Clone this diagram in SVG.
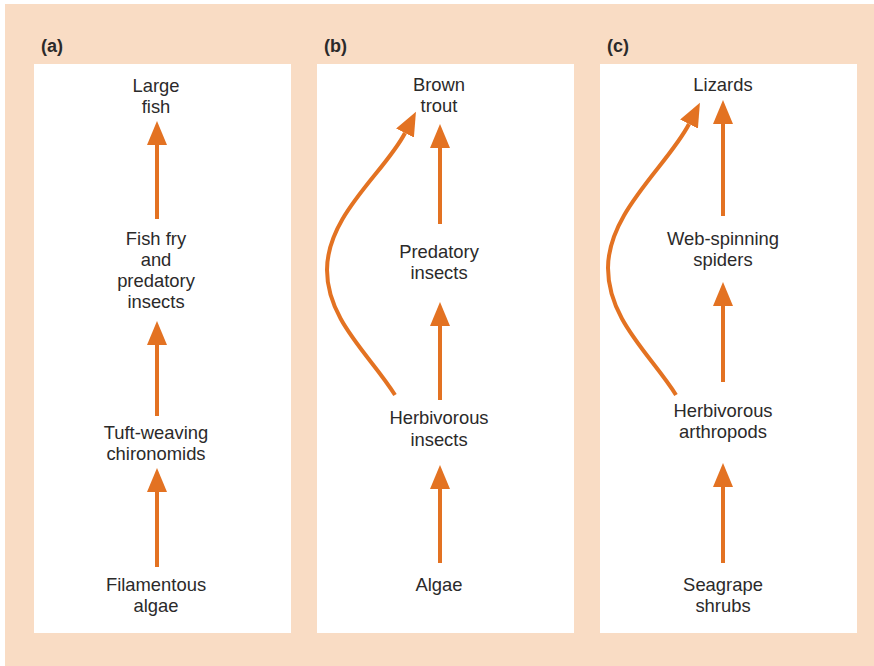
<svg xmlns="http://www.w3.org/2000/svg" width="874" height="666" viewBox="0 0 874 666">
<defs>
<style>
.bg{fill:#F9DCC4}
.panel{fill:#FFFFFF}
.lbl{font-family:"Liberation Sans",Arial,sans-serif;font-size:18.4px;fill:#2B2A2A;text-anchor:middle}
.tag{font-family:"Liberation Sans",Arial,sans-serif;font-size:18px;font-weight:bold;fill:#2B2A2A}
.arr{fill:none;stroke:#E37222;stroke-width:4;marker-end:url(#head)}
</style>
<marker id="head" markerUnits="userSpaceOnUse" markerWidth="24" markerHeight="20" refX="0" refY="10" orient="auto" viewBox="0 0 24 20">
<path d="M0,0 L24,10 L0,20 Z" fill="#E37222"/>
</marker>
</defs>
<rect class="bg" x="5" y="4" width="869" height="662"/>
<g id="panel-a">
<rect class="panel" x="34" y="64" width="257" height="569"/>
<text class="tag" x="41" y="52">(a)</text>
</g>
<g id="panel-b">
<rect class="panel" x="317" y="64" width="257" height="569"/>
<text class="tag" x="324" y="52">(b)</text>
</g>
<g id="panel-c">
<rect class="panel" x="600" y="64" width="257" height="569"/>
<text class="tag" x="607" y="52">(c)</text>
</g>
<g id="a-large-fish"><text class="lbl" x="156" y="92">Large</text><text class="lbl" x="156" y="113">fish</text></g>
<g id="a-fish-fry"><text class="lbl" x="156" y="245">Fish fry</text><text class="lbl" x="156" y="266">and</text><text class="lbl" x="156" y="287">predatory</text><text class="lbl" x="156" y="308">insects</text></g>
<g id="a-chironomids"><text class="lbl" x="156" y="439">Tuft-weaving</text><text class="lbl" x="156" y="460">chironomids</text></g>
<g id="a-algae"><text class="lbl" x="156" y="591">Filamentous</text><text class="lbl" x="156" y="612">algae</text></g>
<g id="b-trout"><text class="lbl" x="439" y="91">Brown</text><text class="lbl" x="439" y="112">trout</text></g>
<g id="b-predatory"><text class="lbl" x="439" y="258">Predatory</text><text class="lbl" x="439" y="279">insects</text></g>
<g id="b-herbivorous"><text class="lbl" x="439" y="424">Herbivorous</text><text class="lbl" x="439" y="446">insects</text></g>
<g id="b-algae"><text class="lbl" x="439" y="591">Algae</text></g>
<g id="c-lizards"><text class="lbl" x="723" y="91">Lizards</text></g>
<g id="c-spiders"><text class="lbl" x="723" y="245">Web-spinning</text><text class="lbl" x="723" y="266">spiders</text></g>
<g id="c-arthropods"><text class="lbl" x="723" y="417">Herbivorous</text><text class="lbl" x="723" y="438">arthropods</text></g>
<g id="c-seagrape"><text class="lbl" x="723" y="591">Seagrape</text><text class="lbl" x="723" y="612">shrubs</text></g>
<g id="connectors">
<path class="arr" d="M157,219 L157,145"/>
<path class="arr" d="M157,416 L157,345"/>
<path class="arr" d="M157,567 L157,492"/>
<path class="arr" d="M440,224 L440,148"/>
<path class="arr" d="M440,400 L440,326"/>
<path class="arr" d="M440,563 L440,489"/>
<path class="arr" d="M395,395 C370,355 327,320 327,270 C327,215 385,172 405,133"/>
<path class="arr" d="M723,216 L723,124"/>
<path class="arr" d="M723,382 L723,306"/>
<path class="arr" d="M723,563 L723,487"/>
<path class="arr" d="M676,395 C651,355 608,320 608,268 C608,212 668,165 689,124"/>
</g>
</svg>
